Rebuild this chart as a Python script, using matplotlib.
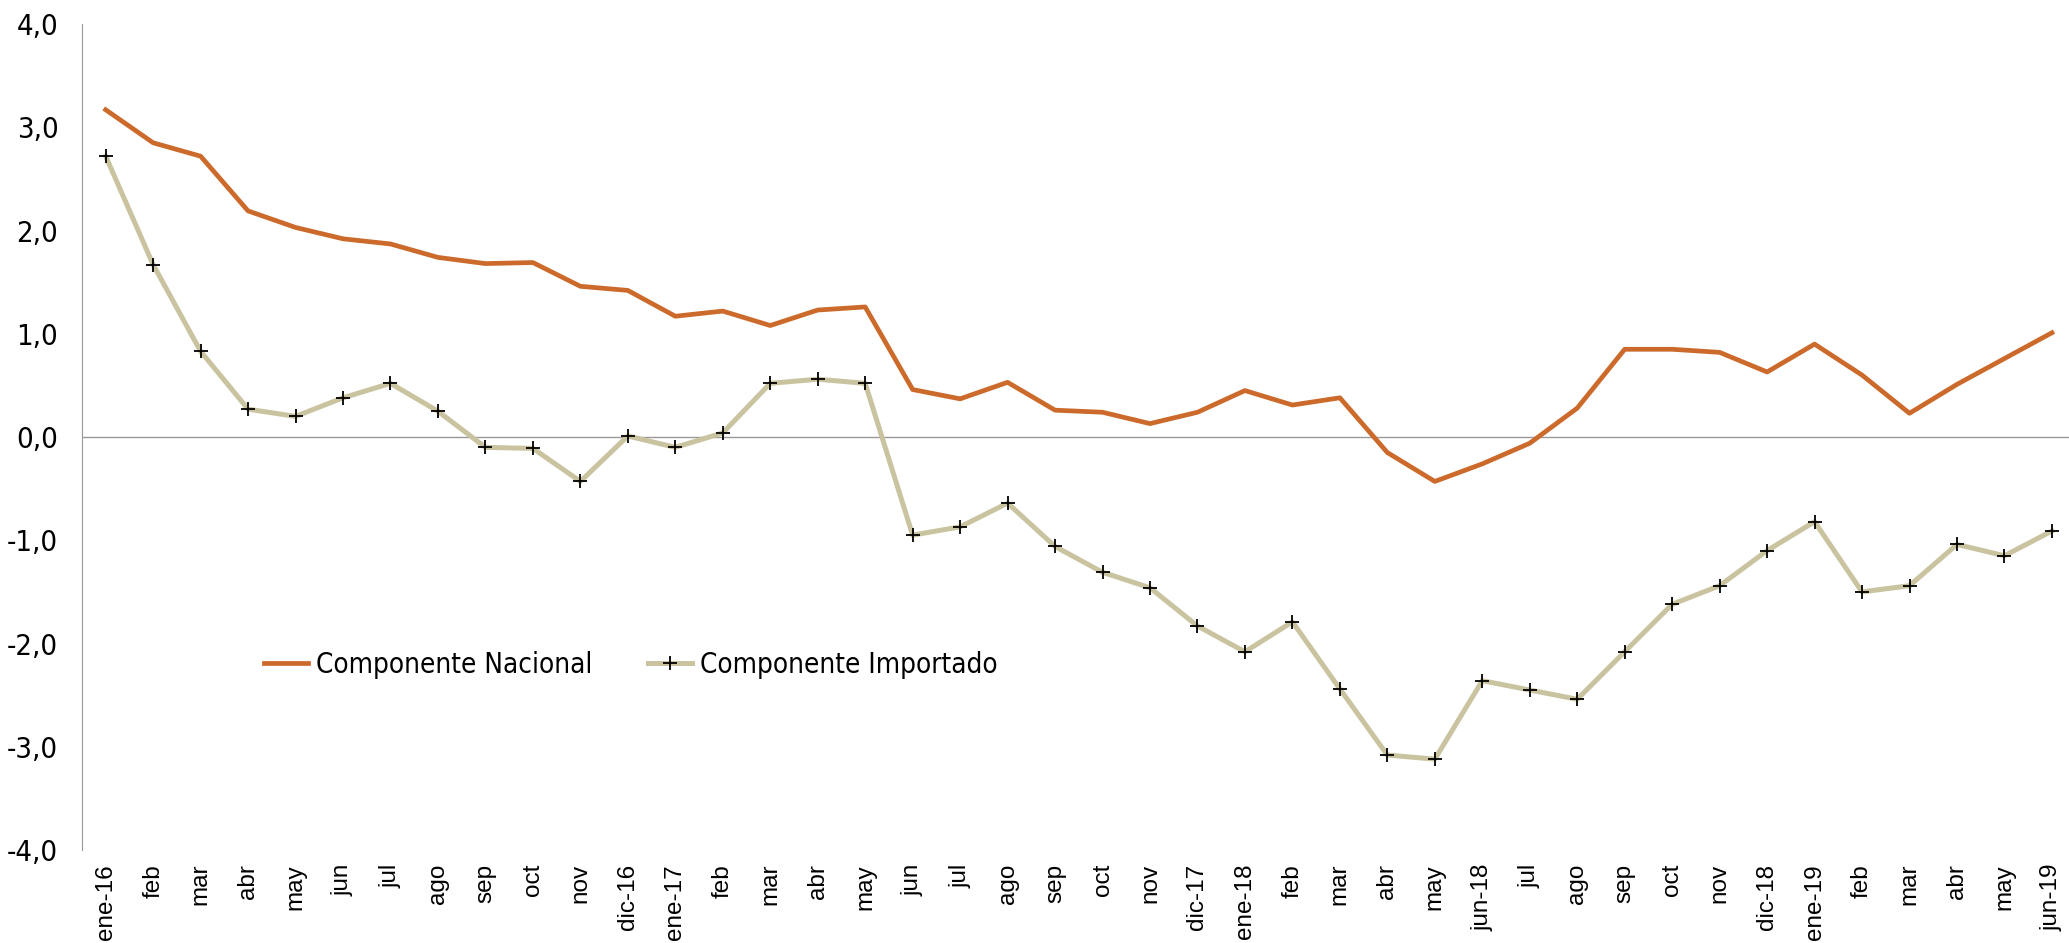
import matplotlib.pyplot as plt
from matplotlib import font_manager
from matplotlib.ticker import FuncFormatter

meses = ["ene-16", "feb", "mar", "abr", "may", "jun", "jul", "ago", "sep", "oct", "nov", "dic-16",
         "ene-17", "feb", "mar", "abr", "may", "jun", "jul", "ago", "sep", "oct", "nov", "dic-17",
         "ene-18", "feb", "mar", "abr", "may", "jun-18", "jul", "ago", "sep", "oct", "nov", "dic-18",
         "ene-19", "feb", "mar", "abr", "may", "jun-19"]

nacional = [3.17, 2.85, 2.72, 2.19, 2.03, 1.92, 1.87, 1.74, 1.68, 1.69, 1.46, 1.42,
            1.17, 1.22, 1.08, 1.23, 1.26, 0.46, 0.37, 0.53, 0.26, 0.24, 0.13, 0.24,
            0.45, 0.31, 0.38, -0.15, -0.43, -0.26, -0.06, 0.28, 0.85, 0.85, 0.82, 0.63,
            0.90, 0.60, 0.23, 0.51, 0.76, 1.01]

importado = [2.72, 1.67, 0.83, 0.27, 0.20, 0.38, 0.52, 0.25, -0.10, -0.11, -0.43, 0.01,
             -0.10, 0.04, 0.52, 0.56, 0.52, -0.95, -0.87, -0.64, -1.06, -1.31, -1.46, -1.83,
             -2.08, -1.79, -2.44, -3.08, -3.12, -2.36, -2.45, -2.54, -2.08, -1.62, -1.44, -1.10,
             -0.82, -1.50, -1.44, -1.04, -1.15, -0.91]

# busca una fuente estrecha normal (no negrita ni cursiva)
candidatas = []
for f in font_manager.fontManager.ttflist:
    nombre = (f.name + " " + f.fname).lower()
    if ("narrow" in nombre or "condensed" in nombre) and f.style == "normal" \
            and f.weight in (400, "normal", "regular", "book"):
        if "bold" in f.fname.lower() or "italic" in f.fname.lower() or "oblique" in f.fname.lower():
            continue
        candidatas.append(f)
candidatas.sort(key=lambda f: 0 if "liberation" in f.name.lower() else 1)
estrecha = candidatas[0] if candidatas else None

fig = plt.figure(figsize=(20.69, 9.43), dpi=100)
ax = fig.add_axes([0.0396, 0.0986, 0.9604, 0.8759])

x = list(range(len(meses)))
ax.plot(x, nacional, color="#CC6A2C", linewidth=3.4, label="Componente Nacional", zorder=3)
ax.plot(x, importado, color="#C9C3A0", linewidth=3.6, marker="+", markersize=10,
        markeredgecolor="black", markeredgewidth=1.3, label="Componente Importado", zorder=3)

ax.axhline(0, color="#999999", linewidth=1, zorder=1)

ax.set_xlim(-0.5, 41.36)
ax.set_ylim(-4, 4)
ax.set_yticks(range(-4, 5))
ax.yaxis.set_major_formatter(FuncFormatter(lambda v, p: f"{v:.1f}".replace(".", ",")))
ax.set_xticks(x)
ax.set_xticklabels(meses, rotation=90, fontsize=17.5, family="Liberation Sans")

if estrecha is not None:
    fp = font_manager.FontProperties(fname=estrecha.fname, size=21)
    fp_ley = font_manager.FontProperties(fname=estrecha.fname, size=20)
else:
    fp = font_manager.FontProperties(family="Liberation Sans", size=19)
    fp_ley = fp

for s in ["top", "right", "bottom"]:
    ax.spines[s].set_visible(False)
ax.spines["left"].set_color("#999999")
ax.tick_params(axis="both", length=0)
ax.tick_params(axis="x", pad=10)
ax.tick_params(axis="y", pad=17)
for t in ax.get_yticklabels():
    t.set_fontproperties(fp)

ax.legend(loc="center left", bbox_to_anchor=(0.1276, 0.2948), bbox_transform=fig.transFigure,
          ncol=2, frameon=False, borderpad=0, borderaxespad=0, handlelength=1.6,
          handletextpad=0.27, columnspacing=2.0, prop=fp_ley)

fig.savefig("out.png", dpi=100)
